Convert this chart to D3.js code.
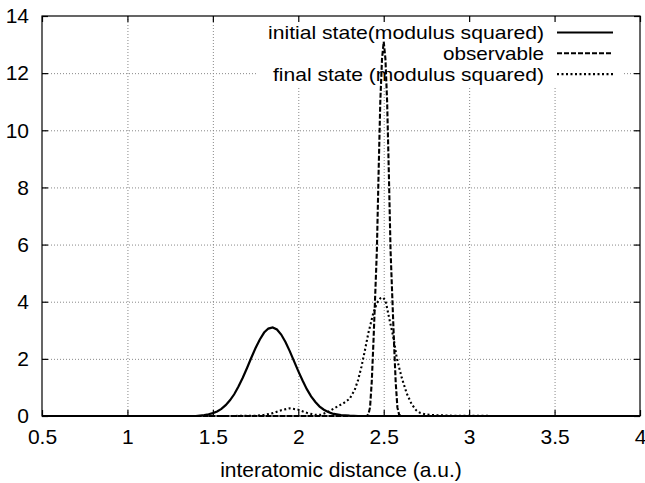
<!DOCTYPE html>
<html>
<head>
<meta charset="utf-8">
<script src="https://cdn.jsdelivr.net/npm/d3@7"></script>
<style>
  body { margin: 0; background: #fff; }
  svg { display: block; font-family: "Liberation Sans", Arial, sans-serif; }
</style>
</head>
<body>
<script>
// tick values
var xTicks = [0.5, 1, 1.5, 2, 2.5, 3, 3.5, 4];
var yTicks = [0, 2, 4, 6, 8, 10, 12, 14];

// series: [distance, value]
var initialState = [
  [0.5, 0], [1.4, 0], [1.45, 0.03], [1.475, 0.06], [1.5, 0.1], [1.525, 0.16], [1.55, 0.25],
  [1.575, 0.38], [1.6, 0.55], [1.625, 0.76], [1.65, 1.03], [1.675, 1.34], [1.7, 1.68],
  [1.725, 2.04], [1.75, 2.38], [1.775, 2.68], [1.8, 2.92], [1.825, 3.06], [1.85, 3.1],
  [1.875, 3.03], [1.9, 2.85], [1.925, 2.59], [1.95, 2.27], [1.975, 1.92], [2.0, 1.57],
  [2.025, 1.24], [2.05, 0.94], [2.075, 0.69], [2.1, 0.49], [2.125, 0.33], [2.15, 0.22],
  [2.175, 0.14], [2.2, 0.085], [2.25, 0.03], [2.3, 0.01], [2.35, 0], [4, 0]
];
var observable = [
  [0.5, 0], [2.4, 0], [2.41, 0.05], [2.42, 0.3], [2.43, 1.2], [2.44, 2.6], [2.45, 4.2],
  [2.46, 5.8], [2.47, 8.5], [2.48, 11.0], [2.49, 12.5], [2.5, 13.1], [2.51, 12.5],
  [2.52, 11.0], [2.53, 8.5], [2.54, 5.8], [2.55, 4.2], [2.56, 2.6], [2.57, 1.2],
  [2.58, 0.3], [2.59, 0.05], [2.6, 0], [4, 0]
];
var finalState = [
  [0.5, 0], [1.6, 0], [1.75, 0.01], [1.8, 0.04], [1.85, 0.1], [1.9, 0.2], [1.95, 0.27],
  [2.0, 0.22], [2.05, 0.11], [2.1, 0.04], [2.13, 0.04], [2.17, 0.13], [2.21, 0.27],
  [2.244, 0.38], [2.263, 0.44], [2.3, 0.6], [2.33, 0.91], [2.35, 1.26], [2.37, 1.73],
  [2.39, 2.3], [2.41, 2.9], [2.439, 3.6], [2.46, 3.95], [2.48, 4.12], [2.495, 4.15],
  [2.51, 4.05], [2.526, 3.6], [2.54, 3.2], [2.556, 2.78], [2.575, 2.08], [2.59, 1.7],
  [2.605, 1.35], [2.634, 0.8], [2.663, 0.42], [2.69, 0.2], [2.712, 0.11], [2.75, 0.05],
  [2.8, 0.03], [2.9, 0.01], [3.2, 0], [4, 0]
];

var seriesNames = ["initial state(modulus squared)", "observable", "final state (modulus squared)"];
var seriesDash = [null, "5,2", "2,2.5"];
var seriesData = [initialState, observable, finalState];
var keyTextWidth = [276, 101, 271];

var width = 645, height = 483;
var margin = {top: 16, right: 5, bottom: 67, left: 42};
var fontSize = 21;

var svg = d3.select("body").append("svg")
  .attr("width", width)
  .attr("height", height);

var x = d3.scaleLinear().domain([0.5, 4]).range([margin.left, width - margin.right]);
var y = d3.scaleLinear().domain([0, 14]).range([height - margin.bottom, margin.top]);

// grid
var grid = svg.append("g").attr("stroke", "#888").attr("stroke-dasharray", "1,2").attr("stroke-width", 1);
grid.selectAll(".gx").data(xTicks.slice(1, -1)).enter().append("line")
  .attr("x1", d => x(d) + 0.5).attr("x2", d => x(d) + 0.5)
  .attr("y1", y(0)).attr("y2", y(14));
grid.selectAll(".gy").data(yTicks.slice(1, -1)).enter().append("line")
  .attr("x1", x(0.5)).attr("x2", x(4))
  .attr("y1", d => y(d) + 0.5).attr("y2", d => y(d) + 0.5);

// blank key area (gridlines hidden behind the key)
svg.append("rect")
  .attr("x", 258).attr("y", margin.top + 2)
  .attr("width", 364).attr("height", 68)
  .attr("fill", "#fff");

// curves
var line = d3.line().x(d => x(d[0])).y(d => y(d[1]));
svg.selectAll(".curve").data(seriesData).enter().append("path")
  .attr("d", line)
  .attr("fill", "none")
  .attr("stroke", "#000")
  .attr("stroke-width", (d, i) => i == 0 ? 2.2 : 2.1)
  .attr("stroke-dasharray", (d, i) => seriesDash[i]);

// frame + ticks
svg.append("rect")
  .attr("x", x(0.5)).attr("y", y(14))
  .attr("width", x(4) - x(0.5)).attr("height", y(0) - y(14))
  .attr("fill", "none").attr("stroke", "#000").attr("stroke-width", 1.2);

var axB = svg.append("g").attr("transform", "translate(0," + y(0) + ")")
  .call(d3.axisBottom(x).tickValues(xTicks).tickSize(-6).tickPadding(11).tickFormat(d3.format("")));
var axT = svg.append("g").attr("transform", "translate(0," + y(14) + ")")
  .call(d3.axisTop(x).tickValues(xTicks).tickSize(-6).tickFormat(""));
var axL = svg.append("g").attr("transform", "translate(" + x(0.5) + ",0)")
  .call(d3.axisLeft(y).tickValues(yTicks).tickSize(-6).tickPadding(13).tickFormat(d3.format("")));
var axR = svg.append("g").attr("transform", "translate(" + x(4) + ",0)")
  .call(d3.axisRight(y).tickValues(yTicks).tickSize(-6).tickFormat(""));

[axB, axT, axL, axR].forEach(function(a) {
  a.select(".domain").remove();
  a.selectAll("line").attr("stroke", "#000").attr("stroke-width", 1.2);
  a.selectAll("text").attr("font-size", fontSize).attr("fill", "#000")
    .attr("font-family", "Liberation Sans, Arial, sans-serif");
});
axB.selectAll("text").attr("dy", "0.8em");

// axis title
svg.append("text")
  .attr("x", 341).attr("y", 477)
  .attr("text-anchor", "middle")
  .attr("font-size", fontSize)
  .text("interatomic distance (a.u.)");

// key
var key = svg.append("g");
seriesNames.forEach(function(name, i) {
  var yy = 32.5 + i * 20.8;
  key.append("text")
    .attr("x", 544 - keyTextWidth[i]).attr("y", yy)
    .attr("dy", "0.36em")
    .attr("font-size", 18.6)
    .attr("textLength", keyTextWidth[i])
    .attr("lengthAdjust", "spacingAndGlyphs")
    .text(name);
  key.append("line")
    .attr("x1", 557).attr("x2", 613)
    .attr("y1", yy).attr("y2", yy)
    .attr("stroke", "#000")
    .attr("stroke-width", i == 0 ? 2.2 : 2.1)
    .attr("stroke-dasharray", seriesDash[i]);
});
</script>
</body>
</html>
